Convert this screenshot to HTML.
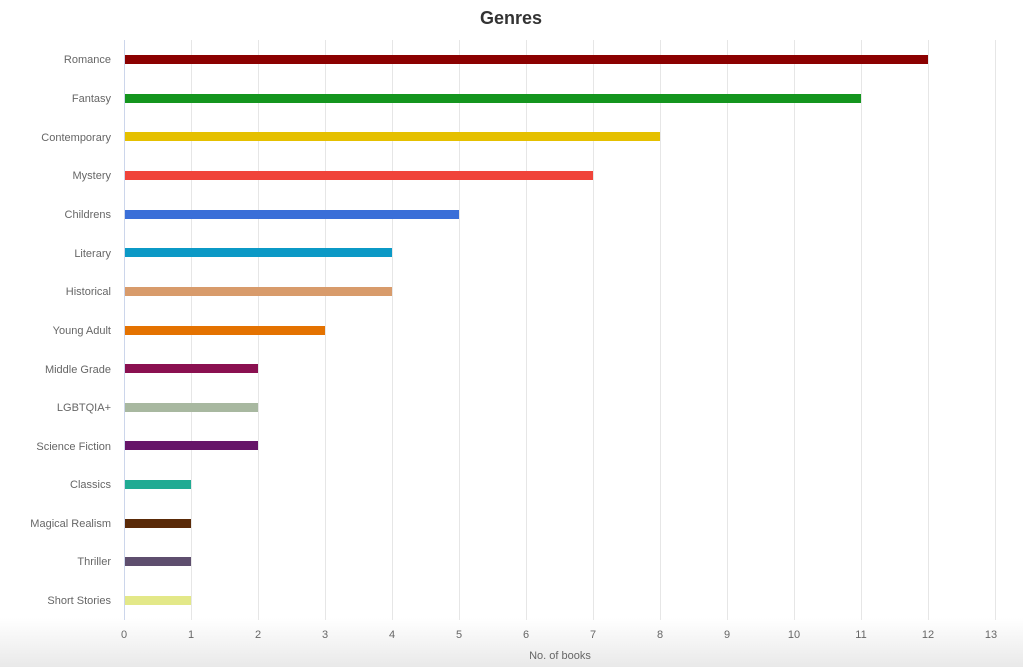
<!DOCTYPE html>
<html><head><meta charset="utf-8"><style>
html,body{margin:0;padding:0;background:#fff;}
svg{display:block;font-family:"Liberation Sans",sans-serif;}
</style></head><body>
<svg width="1023" height="667" viewBox="0 0 1023 667" xmlns="http://www.w3.org/2000/svg">
<defs><linearGradient id="g" x1="0" y1="0" x2="0" y2="1"><stop offset="0" stop-color="#fff"/><stop offset="1" stop-color="#e9e9e9"/></linearGradient></defs>
<rect x="0" y="618" width="1023" height="49" fill="url(#g)"/>
<text x="511" y="24" text-anchor="middle" font-size="18" font-weight="bold" fill="#333">Genres</text>
<g stroke="#e6e6e6" stroke-width="1">
<line x1="191.5" y1="40" x2="191.5" y2="620"/><line x1="258.5" y1="40" x2="258.5" y2="620"/>
<line x1="325.5" y1="40" x2="325.5" y2="620"/><line x1="392.5" y1="40" x2="392.5" y2="620"/>
<line x1="459.5" y1="40" x2="459.5" y2="620"/><line x1="526.5" y1="40" x2="526.5" y2="620"/>
<line x1="593.5" y1="40" x2="593.5" y2="620"/><line x1="660.5" y1="40" x2="660.5" y2="620"/>
<line x1="727.5" y1="40" x2="727.5" y2="620"/><line x1="794.5" y1="40" x2="794.5" y2="620"/>
<line x1="861.5" y1="40" x2="861.5" y2="620"/><line x1="928.5" y1="40" x2="928.5" y2="620"/>
<line x1="995.5" y1="40" x2="995.5" y2="620"/>
</g>
<line x1="124.5" y1="40" x2="124.5" y2="620" stroke="#ccd6eb"/>
<g>
<rect x="125" y="55" width="803" height="9" fill="#8b0000"/>
<rect x="125" y="94" width="736" height="9" fill="#14951e"/>
<rect x="125" y="132" width="535" height="9" fill="#e5c000"/>
<rect x="125" y="171" width="468" height="9" fill="#f0443a"/>
<rect x="125" y="210" width="334" height="9" fill="#3a6fd8"/>
<rect x="125" y="248" width="267" height="9" fill="#0b99c6"/>
<rect x="125" y="287" width="267" height="9" fill="#d89b6b"/>
<rect x="125" y="326" width="200" height="9" fill="#e47200"/>
<rect x="125" y="364" width="133" height="9" fill="#8a1050"/>
<rect x="125" y="403" width="133" height="9" fill="#a8b8a0"/>
<rect x="125" y="441" width="133" height="9" fill="#661568"/>
<rect x="125" y="480" width="66" height="9" fill="#20ab93"/>
<rect x="125" y="519" width="66" height="9" fill="#5a2a08"/>
<rect x="125" y="557" width="66" height="9" fill="#5e4e6e"/>
<rect x="125" y="596" width="66" height="9" fill="#e3e888"/>
</g>
<g font-size="11" fill="#666" text-anchor="end">
<text x="111" y="63">Romance</text><text x="111" y="102">Fantasy</text>
<text x="111" y="141">Contemporary</text><text x="111" y="179">Mystery</text>
<text x="111" y="218">Childrens</text><text x="111" y="257">Literary</text>
<text x="111" y="295">Historical</text><text x="111" y="334">Young Adult</text>
<text x="111" y="373">Middle Grade</text><text x="111" y="411">LGBTQIA+</text>
<text x="111" y="450">Science Fiction</text><text x="111" y="488">Classics</text>
<text x="111" y="527">Magical Realism</text><text x="111" y="565">Thriller</text>
<text x="111" y="604">Short Stories</text>
</g>
<g font-size="11" fill="#666" text-anchor="middle">
<text x="124" y="638">0</text><text x="191" y="638">1</text><text x="258" y="638">2</text>
<text x="325" y="638">3</text><text x="392" y="638">4</text><text x="459" y="638">5</text>
<text x="526" y="638">6</text><text x="593" y="638">7</text><text x="660" y="638">8</text>
<text x="727" y="638">9</text><text x="794" y="638">10</text><text x="861" y="638">11</text>
<text x="928" y="638">12</text><text x="991" y="638">13</text>
<text x="560" y="659">No. of books</text>
</g>
</svg>
</body></html>
